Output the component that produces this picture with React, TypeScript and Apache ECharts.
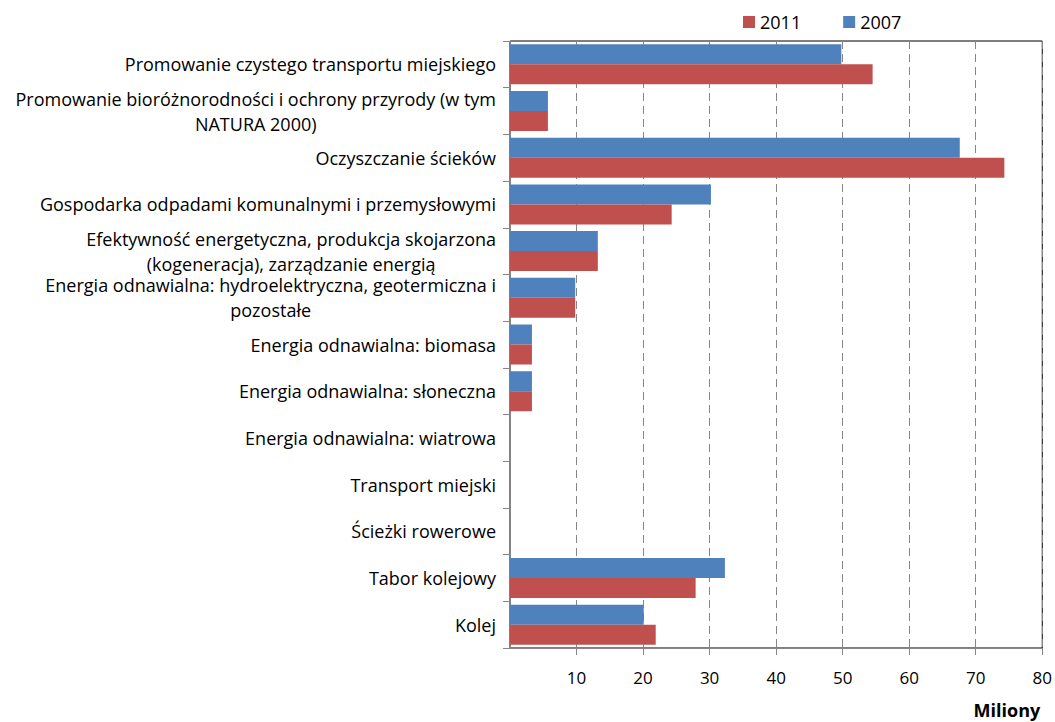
import React, { useEffect, useRef } from "react";
import * as echarts from "echarts";

const categories: string[] = [
  "Promowanie czystego transportu miejskiego",
  "Promowanie bioróżnorodności i ochrony przyrody (w tym\nNATURA 2000)",
  "Oczyszczanie ścieków",
  "Gospodarka odpadami komunalnymi i przemysłowymi",
  "Efektywność energetyczna, produkcja skojarzona\n(kogeneracja), zarządzanie energią",
  "Energia odnawialna: hydroelektryczna, geotermiczna i\npozostałe",
  "Energia odnawialna: biomasa",
  "Energia odnawialna: słoneczna",
  "Energia odnawialna: wiatrowa",
  "Transport miejski",
  "Ścieżki rowerowe",
  "Tabor kolejowy",
  "Kolej",
];

const values2007: number[] = [49.8, 5.7, 67.6, 30.2, 13.2, 9.8, 3.3, 3.3, 0, 0, 0, 32.3, 20.1];
const values2011: number[] = [54.5, 5.7, 74.3, 24.3, 13.2, 9.8, 3.3, 3.3, 0, 0, 0, 27.9, 21.9];

const legendOrder: string[] = ["2011", "2007"];
const xTicks: number[] = [0, 10, 20, 30, 40, 50, 60, 70, 80];
const unitLabel = "Miliony";

const FONT = "Open Sans";

export default function App() {
  const ref = useRef<HTMLDivElement>(null);
  useEffect(() => {
    document.body.style.margin = "0";
    if (!ref.current) return;
    const chart = echarts.init(ref.current, undefined, { renderer: "svg" });
    chart.setOption({
      animation: false,
      textStyle: { fontFamily: FONT },
      legend: {
        data: legendOrder,
        top: 8,
        left: 738,
        itemWidth: 12,
        itemHeight: 12,
        itemGap: 42,
        icon: "rect",
        textStyle: { fontFamily: FONT, fontSize: 18, color: "#000" },
      },
      grid: {
        left: 510,
        right: 12,
        top: 41,
        bottom: 74,
        show: true,
        borderColor: "#000",
        borderWidth: 1,
        backgroundColor: "transparent",
      },
      xAxis: {
        type: "value",
        min: xTicks[0],
        max: xTicks[xTicks.length - 1],
        interval: 10,
        name: unitLabel,
        nameLocation: "end",
        nameGap: -2,
        nameTextStyle: {
          fontFamily: FONT,
          fontSize: 18,
          fontWeight: "bold",
          color: "#000",
          align: "right",
          verticalAlign: "top",
          padding: [53, 0, 0, 0],
        },
        axisLine: { show: true, lineStyle: { color: "#868686", width: 1 } },
        axisTick: { show: true, length: 7, lineStyle: { color: "#868686" } },
        axisLabel: {
          showMinLabel: false,
          margin: 21,
          fontFamily: FONT,
          fontSize: 17,
          color: "#000",
        },
        splitLine: {
          show: true,
          lineStyle: { color: "#868686", type: [8, 5], width: 1 },
        },
      },
      yAxis: {
        type: "category",
        inverse: true,
        data: categories,
        axisLine: { show: true, lineStyle: { color: "#868686", width: 1 } },
        axisTick: { show: true, length: 7, lineStyle: { color: "#868686" } },
        axisLabel: {
          margin: 14,
          fontFamily: FONT,
          fontSize: 18,
          color: "#000",
          align: "right",
          lineHeight: 25,
          formatter: (v: string) =>
            v
              .split("\n")
              .map((l) => "{c|" + l + "}")
              .join("\n"),
          rich: {
            c: {
              align: "center",
              fontFamily: FONT,
              fontSize: 18,
              color: "#000",
              lineHeight: 25,
            },
          },
        },
        splitLine: { show: false },
      },
      series: [
        {
          name: "2007",
          type: "bar",
          data: values2007,
          barWidth: 20,
          barGap: "0%",
          itemStyle: { color: "#4F81BD" },
        },
        {
          name: "2011",
          type: "bar",
          data: values2011,
          barWidth: 20,
          barGap: "0%",
          itemStyle: { color: "#C0504D" },
        },
      ],
    });
    return () => chart.dispose();
  }, []);
  return <div ref={ref} style={{ width: 1055, height: 722 }} />;
}
